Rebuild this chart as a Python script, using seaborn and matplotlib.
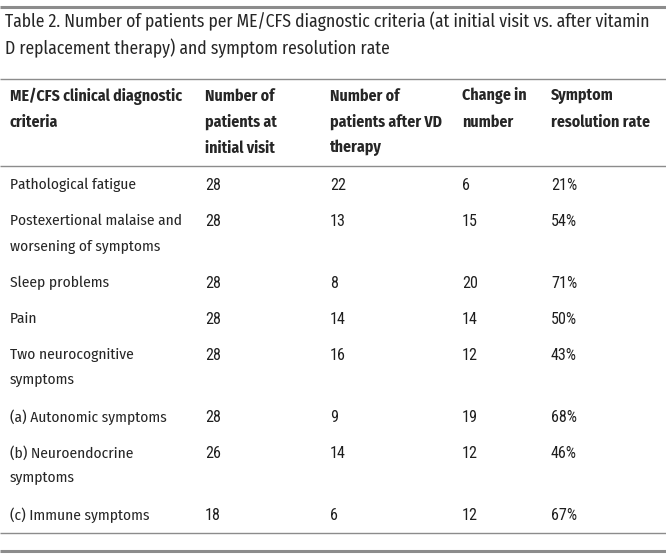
import matplotlib
matplotlib.use("Agg")
import matplotlib.pyplot as plt
import seaborn as sns

# table content
title_lines = [
    "Table 2. Number of patients per ME/CFS diagnostic criteria (at initial visit vs. after vitamin",
    "D replacement therapy) and symptom resolution rate",
]
headers = [
    ["ME/CFS clinical diagnostic", "criteria"],
    ["Number of", "patients at", "initial visit"],
    ["Number of", "patients after VD", "therapy"],
    ["Change in", "number"],
    ["Symptom", "resolution rate"],
]
criteria = [
    ["Pathological fatigue"],
    ["Postexertional malaise and", "worsening of symptoms"],
    ["Sleep problems"],
    ["Pain"],
    ["Two neurocognitive", "symptoms"],
    ["(a) Autonomic symptoms"],
    ["(b) Neuroendocrine", "symptoms"],
    ["(c) Immune symptoms"],
]
initial = [28, 28, 28, 28, 28, 28, 26, 18]
after_vd = [22, 13, 8, 14, 16, 9, 14, 6]
change = [6, 15, 20, 14, 12, 19, 12, 12]
resolution = ["21%", "54%", "71%", "50%", "43%", "68%", "46%", "67%"]

sns.set_theme(style="white")
plt.rcParams["font.family"] = ["Fira Sans Condensed", "Roboto Condensed", "DejaVu Sans"]
num_family = ["Roboto Condensed", "DejaVu Sans"]

W, H = 666, 556
fig = plt.figure(figsize=(W / 100, H / 100), dpi=100)
ax = fig.add_axes([0, 0, 1, 1])
ax.set_xlim(0, W)
ax.set_ylim(H, 0)
ax.axis("off")

ink = "#262626"
rule = "#8c8c8c"
col_x = [10, 205, 330, 462, 551]
line_h = 26
fs = 11.1

# rules
ax.hlines(7, 0, W, color=rule, lw=2.2)
ax.hlines(79, 0, W, color=rule, lw=1.0)
ax.hlines(166, 0, W, color=rule, lw=1.0)
ax.hlines(533, 0, W, color=rule, lw=1.0)
ax.hlines(551, 0, W, color=rule, lw=2.2)

# caption
for i, t in enumerate(title_lines):
    ax.text(5, 21 + i * 27, t, fontsize=12.7, color=ink, va="center", ha="left")

# header
for x, lines in zip(col_x, headers):
    for j, t in enumerate(lines):
        ax.text(x, 96 + j * line_h, t, fontsize=11.4, fontweight="bold",
                color=ink, va="center", ha="left")

# body rows
row_y = [185, 221, 283, 319, 355, 417, 453, 515]
for k, y in enumerate(row_y):
    for j, t in enumerate(criteria[k]):
        ax.text(col_x[0], y + j * line_h, t, fontsize=fs, color=ink, va="center")
    vals = [str(initial[k]), str(after_vd[k]), str(change[k]), resolution[k]]
    for x, v in zip(col_x[1:], vals):
        ax.text(x, y, v, fontsize=11.6, color="#1e1e1e", va="center", family=num_family)

fig.savefig("out.png", dpi=100, facecolor="white")
